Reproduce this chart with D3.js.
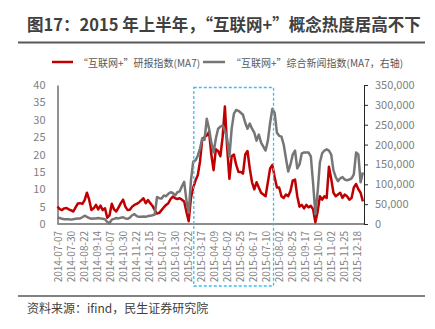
<!DOCTYPE html>
<html><head><meta charset="utf-8">
<script src="https://cdn.jsdelivr.net/npm/d3@7"></script>
<style>
html,body{margin:0;padding:0;background:#fff;}
svg{display:block;font-family:"Noto Sans CJK SC","Noto Sans",sans-serif;}
</style></head>
<body><svg id="chart" width="435" height="329"></svg>
<script>
// ---- data ----
const titleText = "图17：2015 年上半年，“互联网+”概念热度居高不下";
const sourceText = "资料来源：ifind，民生证券研究院";
const seriesNames = ["“互联网+”研报指数(MA7)", "“互联网+”综合新闻指数(MA7，右轴)"];
const startDate = "2014-07-07";
const endDate = "2015-12-31";
const stepDays = 4;
const xTickLabels = ["2014-07-07","2014-07-30","2014-08-22","2014-09-14","2014-10-07","2014-10-30","2014-11-22","2014-12-15","2015-01-07","2015-01-30","2015-02-22","2015-03-17","2015-04-09","2015-05-02","2015-05-25","2015-06-17","2015-07-10","2015-08-02","2015-08-25","2015-09-17","2015-10-10","2015-11-02","2015-11-25","2015-12-18"];
const leftTicks = [0,5,10,15,20,25,30,35,40];
const rightTicks = [0,50000,100000,150000,200000,250000,300000,350000];
const highlightStart = "2015-03-05";
const highlightEnd = "2015-07-24";
// research report index (left axis), one value every 4 days from startDate
const reportIndex = [
 5.0,4.3,4.0,4.5,4.6,4.2,3.9,3.6,4.8,5.9,6.0,5.8,6.9,9.0,7.0,4.0,4.5,5.5,4.2,5.3,
 4.0,4.5,1.8,2.5,5.8,4.2,3.6,4.8,6.0,7.0,5.0,4.0,4.1,5.0,5.5,5.8,6.2,6.8,7.4,6.0,
 6.9,6.0,5.2,4.0,3.0,3.2,4.0,4.8,5.5,6.0,7.2,7.9,7.4,7.2,7.4,7.0,6.5,3.5,0.8,7.5,
 10.5,12.5,14.0,18.0,24.5,25.0,25.5,26.5,20.0,15.5,21.5,21.0,19.5,25.0,33.8,22.0,13.0,19.5,20.0,17.0,
 15.0,15.0,14.5,20.0,21.0,16.0,12.0,10.0,12.0,10.5,9.0,8.5,8.0,12.0,16.0,17.0,13.5,10.5,10.5,8.0,
 7.5,8.5,8.0,9.5,12.5,12.8,8.0,5.0,5.5,4.5,5.5,4.8,5.2,4.2,0.5,3.5,8.0,7.0,8.0,7.5,
 16.5,13.0,9.0,8.0,8.5,9.0,7.5,8.5,8.0,7.0,7.5,10.5,11.5,10.0,9.0,6.5
];
// comprehensive news index (right axis)
const newsIndex = [
 16000,15000,13000,12000,12000,12000,11000,12000,13000,14000,14000,17000,21000,18000,15000,13000,14000,14000,15000,14000,
 13000,12000,5000,2000,11000,13000,15000,14000,16000,17000,14000,13000,16000,22000,25000,20000,18000,18000,19000,18000,
 20000,21000,22000,24000,68000,65000,64000,72000,70000,76000,80000,78000,72000,80000,82000,95000,106000,60000,28000,110000,
 157000,160000,172000,190000,215000,212000,265000,240000,205000,180000,215000,240000,245000,248000,235000,215000,170000,240000,278000,287000,
 285000,280000,275000,255000,240000,253000,240000,230000,210000,225000,205000,195000,185000,210000,255000,290000,280000,230000,222000,220000,
 200000,165000,132000,150000,175000,185000,140000,150000,178000,180000,180000,180000,170000,102000,25000,80000,155000,178000,185000,188000,
 185000,175000,135000,118000,108000,115000,118000,112000,110000,112000,115000,125000,180000,175000,105000,130000
];

// ---- chart ----
const parse = d3.timeParse("%Y-%m-%d");
const t0 = parse(startDate);
const dates = reportIndex.map((_, i) => d3.timeDay.offset(t0, i * stepDays));
const svg = d3.select("#chart");

const plot = {left: 57.5, right: 364, top: 85, bottom: 224};
const x = d3.scaleTime().domain([t0, parse(endDate)]).range([plot.left, plot.right]);
const yL = d3.scaleLinear().domain([0, 40]).range([plot.bottom, plot.top]);
const yR = d3.scaleLinear().domain([0, 350000]).range([plot.bottom, plot.top]);

// title
svg.append("text").attr("x", 27).attr("y", 31)
  .attr("font-size", 16.5).attr("font-weight", "bold").attr("fill", "#404040")
  .text(titleText);
svg.append("line").attr("x1", 18).attr("x2", 425).attr("y1", 42.5).attr("y2", 42.5)
  .attr("stroke", "#595959").attr("stroke-width", 2);

// legend
const leg = svg.append("g").attr("font-size", 10).attr("fill", "#595959");
leg.append("line").attr("x1", 52).attr("x2", 73).attr("y1", 62).attr("y2", 62).attr("stroke", "#C00000").attr("stroke-width", 2.5);
leg.append("text").attr("x", 78).attr("y", 62).attr("dominant-baseline", "central").text(seriesNames[0]);
leg.append("line").attr("x1", 203).attr("x2", 225).attr("y1", 62).attr("y2", 62).attr("stroke", "#767676").attr("stroke-width", 2.5);
leg.append("text").attr("x", 231).attr("y", 62).attr("dominant-baseline", "central").text(seriesNames[1]);

// left axis
const gL = svg.append("g").attr("transform", `translate(${plot.left},0)`)
  .call(d3.axisLeft(yL).tickValues(leftTicks).tickSize(0).tickPadding(12));
gL.select(".domain").attr("stroke", "#262626").attr("stroke-width", 1);
gL.selectAll("text").attr("font-size", 11).attr("fill", "#7f7f7f").attr("font-family", "'Noto Sans CJK SC', sans-serif");

// right axis
const gR = svg.append("g").attr("transform", `translate(${plot.right},0)`)
  .call(d3.axisRight(yR).tickValues(rightTicks).tickSize(4).tickPadding(7).tickFormat(d3.format(",")));
gR.select(".domain").attr("stroke", "#262626").attr("stroke-width", 1);
gR.selectAll(".tick line").attr("stroke", "#262626");
gR.selectAll("text").attr("font-size", 11).attr("fill", "#7f7f7f").attr("font-family", "'Noto Sans CJK SC', sans-serif");

// x axis
svg.append("line").attr("x1", plot.left).attr("x2", plot.right).attr("y1", plot.bottom).attr("y2", plot.bottom)
  .attr("stroke", "#8c8c8c").attr("stroke-width", 2);
svg.append("g").selectAll("text").data(xTickLabels).join("text")
  .attr("transform", d => `translate(${x(parse(d))},231) rotate(-90)`)
  .attr("text-anchor", "end").attr("dominant-baseline", "central")
  .attr("font-size", 10).attr("fill", "#7f7f7f").text(d => d);

// lines
const lineL = d3.line().x((d, i) => x(dates[i])).y(d => yL(d));
const lineR = d3.line().x((d, i) => x(dates[i])).y(d => yR(d));
svg.append("path").datum(reportIndex).attr("d", lineL)
  .attr("fill", "none").attr("stroke", "#C00000").attr("stroke-width", 2.5).attr("stroke-linejoin", "round");
svg.append("path").datum(newsIndex).attr("d", lineR)
  .attr("fill", "none").attr("stroke", "#767676").attr("stroke-width", 2.5).attr("stroke-linejoin", "round");

// highlight box
const hx0 = x(parse(highlightStart)), hx1 = x(parse(highlightEnd));
svg.append("rect").attr("x", hx0).attr("y", 87.5).attr("width", hx1 - hx0).attr("height", 286 - 87.5)
  .attr("fill", "none").attr("stroke", "#3DBDF0").attr("stroke-width", 1.3).attr("stroke-dasharray", "3,2");

// source
svg.append("line").attr("x1", 18).attr("x2", 425).attr("y1", 296).attr("y2", 296)
  .attr("stroke", "#595959").attr("stroke-width", 1.5);
svg.append("text").attr("x", 27).attr("y", 313).attr("font-size", 12).attr("fill", "#404040").text(sourceText);
</script></body></html>
